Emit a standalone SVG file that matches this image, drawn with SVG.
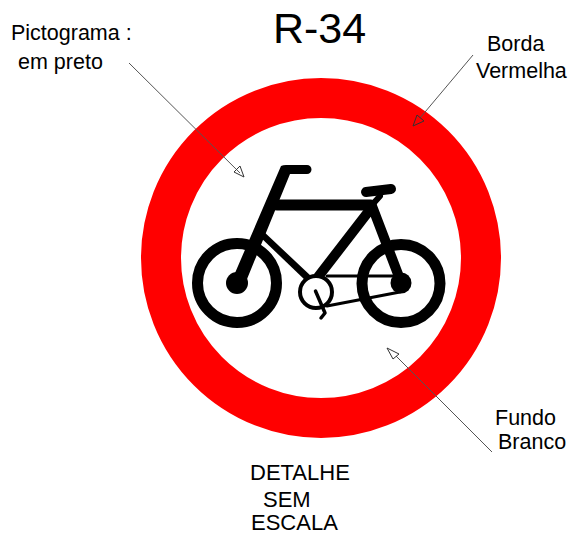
<svg xmlns="http://www.w3.org/2000/svg" width="571" height="535" viewBox="0 0 571 535">
<style>
text{font-family:"Liberation Sans",Arial,sans-serif;font-size:21.5px;fill:#000}
.b{fill:none;stroke:#000;stroke-linecap:round;stroke-linejoin:round}
.a{fill:none;stroke:#555;stroke-width:1}
.h{fill:none;stroke:#333;stroke-width:1}
.t{font-size:22px}
</style>
<rect width="571" height="535" fill="#fff"/>
<g id="sign"><circle cx="321" cy="258" r="160" fill="#fff" stroke="#f00" stroke-width="40"/></g>
<g id="bicycle">
<circle class="b" cx="237" cy="283" r="39.500" stroke-width="11"/>
<circle class="b" cx="401" cy="283.500" r="39" stroke-width="11"/>
<circle cx="237" cy="283" r="11"/>
<circle cx="401" cy="283" r="10.500"/>
<path d="M232 280L281 166Q283 165 286 165L307 165A4.500 4.500 0 0 1 307 174L290 174L245 284Z"/>
<path class="b" stroke-width="11" stroke-linecap="butt" d="M277 205H371"/>
<path class="b" stroke-width="10" d="M372 206L401 282M372 207L318 277"/>
<path d="M261 229L312 277L306 281L257 234Z"/>
<path class="b" stroke-width="3" d="M327 276H397M327 306L400 292"/>
<path class="b" stroke-width="10" d="M366 192L391 189"/>
<path class="b" stroke-width="6" d="M380 196L372 205"/>
<circle cx="316" cy="292" r="16" fill="#fff" stroke="#000" stroke-width="4"/>
<path class="b" stroke-width="3.500" d="M315.500 291L325 313L321 318"/>
</g>
<g id="connectors">
<path class="a" d="M129 63L240 173"/><path class="h" d="M244 177L234 172L240 166Z"/>
<path class="a" d="M473 55L420 118"/><path class="h" d="M413 126L417 115L424 121Z"/>
<path class="a" d="M492 452L396 356"/><path class="h" d="M387 348L399 354L393 359Z"/>
</g>
<g id="labels">
<text x="273" y="43" style="font-size:43px">R-34</text>
<text x="11" y="40">Pictograma :</text>
<text x="18" y="69">em preto</text>
<text x="487" y="51">Borda</text>
<text x="476" y="78">Vermelha</text>
<text x="495" y="425">Fundo</text>
<text x="498" y="449">Branco</text>
<text class="t" x="250" y="480">DETALHE</text>
<text class="t" x="263" y="507">SEM</text>
<text class="t" x="251" y="530">ESCALA</text>
</g>
</svg>
